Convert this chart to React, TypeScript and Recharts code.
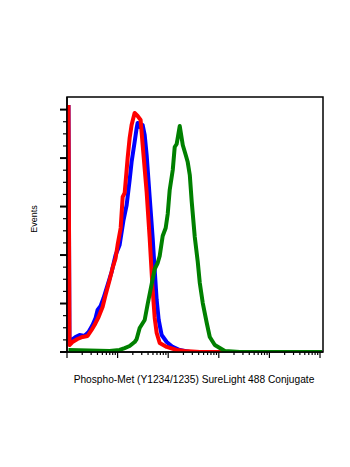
import { LineChart, Line, XAxis, YAxis, ReferenceArea } from "recharts"

// fluorescence intensity (log axis) and event counts
const blueX = [1.07, 1.12, 1.23, 1.47, 1.77, 2.22, 2.67, 3.2, 3.67, 4.02, 4.61, 5.28, 6.34, 7.61, 9.13, 10.96, 13.1, 15.1, 17.3, 18.9, 21.7, 23.8, 24.9, 27.3, 31.3, 34.3, 37.5, 43.0, 49.3, 54.1, 59.2, 64.9, 74.3, 93.4, 123, 169, 267, 110000]
const blueY = [254.7, 8.3, 12.4, 15.5, 17.5, 16.5, 20.6, 27.8, 35.1, 43.3, 47.4, 55.7, 69.1, 82.5, 100.0, 110.4, 136.1, 151.6, 177.4, 196.0, 216.6, 231.0, 236.2, 232.1, 234.1, 223.8, 203.2, 159.9, 117.6, 84.5, 53.6, 33.0, 17.5, 10.3, 5.2, 2.1, 0, 0]

const redX = [1.07, 1.12, 1.28, 1.61, 2.03, 2.55, 3.06, 3.5, 4.21, 5.05, 5.78, 6.95, 7.96, 9.13, 10.0, 11.5, 12.6, 13.8, 15.8, 17.3, 18.9, 21.7, 24.9, 28.5, 31.3, 37.5, 43.0, 49.3, 54.1, 59.2, 67.9, 93.4, 147, 212, 421, 110000]
const redY = [254.7, 7.2, 10.3, 13.4, 15.5, 16.5, 22.7, 27.8, 36.1, 46.4, 58.8, 74.3, 86.6, 96.9, 110.4, 127.9, 159.9, 164.0, 200.1, 220.7, 234.1, 246.5, 243.4, 239.3, 213.5, 165.0, 117.6, 63.9, 35.1, 19.6, 9.3, 5.2, 2.1, 1.0, 0, 0]

const greenX = [1.07, 6.95, 10.96, 13.8, 17.3, 21.7, 23.8, 27.3, 34.3, 39.3, 47.1, 54.1, 61.9, 67.9, 77.8, 89.2, 97.8, 107, 123, 134.5, 147, 169, 194, 222, 243, 267, 292, 335, 384, 421, 482, 578, 663, 833, 1047, 1315, 2606, 110000]
const greenY = [2.1, 1.0, 2.1, 4.1, 6.2, 10.3, 13.4, 24.8, 33.0, 49.5, 70.1, 85.6, 91.8, 99.0, 119.6, 127.9, 142.3, 167.1, 187.7, 211.4, 214.5, 233.1, 213.5, 203.2, 195.9, 182.6, 154.7, 118.6, 92.8, 71.2, 50.5, 29.9, 15.5, 7.2, 4.1, 1.0, 0, 0]

const xMax = 114600
const yMax = 263

const decades = [1, 10, 100, 1000, 10000, 100000]
const xTicks = decades.flatMap((d) => [1, 2, 3, 4, 5, 6, 7, 8, 9].map((m) => m * d)).filter((v) => v <= xMax)
const yTicks = Array.from({ length: 21 }, (_, i) => i * 12.5)

const toPoints = (xs: number[], ys: number[]) => xs.map((x, i) => ({ x, y: ys[i] }))

const blueData = toPoints(blueX, blueY)
const redData = toPoints(redX, redY)
const greenData = toPoints(greenX, greenY)

const XTick = (props: any) => {
  const { x, y, payload } = props
  const lg = Math.log10(payload.value)
  const major = Math.abs(lg - Math.round(lg)) < 1e-6
  return (
    <g>
      <line x1={x} x2={x} y1={y} y2={y + (major ? 6 : 3)} stroke="#000" strokeWidth={1.2} />
    </g>
  )
}

const YTick = (props: any) => {
  const { x, y, payload } = props
  const major = payload.value % 50 === 0
  return (
    <g>
      <line x1={x - (major ? 7 : 4)} x2={x} y1={y} y2={y} stroke="#000" strokeWidth={major ? 2 : 1.2} />
    </g>
  )
}

export default function App() {
  return (
    <div style={{ position: "absolute", left: 0, top: 0, background: "#fff" }}>
      <LineChart width={350} height={467} margin={{ top: 97, right: 27, bottom: 105, left: 57 }}>
        <XAxis
          dataKey="x"
          type="number"
          scale="log"
          domain={[1, xMax]}
          ticks={xTicks}
          interval={0}
          height={10}
          tickSize={0}
          tickMargin={0}
          tick={XTick}
          tickLine={false}
          axisLine={{ stroke: "#000", strokeWidth: 1.5 }}
          allowDataOverflow
        />
        <YAxis
          type="number"
          domain={[0, yMax]}
          ticks={yTicks}
          interval={0}
          width={10}
          tickSize={0}
          tickMargin={0}
          tick={YTick}
          tickLine={false}
          axisLine={{ stroke: "#000", strokeWidth: 1.5 }}
          allowDataOverflow
        />
        <ReferenceArea x1={1} x2={xMax} y1={0} y2={yMax} fill="none" stroke="#000" strokeWidth={1.5} />
        <Line data={blueData} dataKey="y" stroke="#0000ff" strokeWidth={4} dot={false} isAnimationActive={false} strokeLinejoin="round" />
        <Line data={redData} dataKey="y" stroke="#ff0000" strokeWidth={4} dot={false} isAnimationActive={false} strokeLinejoin="round" />
        <Line data={greenData} dataKey="y" stroke="#008000" strokeWidth={4} dot={false} isAnimationActive={false} strokeLinejoin="round" />
        <text x={35} y={219} transform="rotate(-90 35 219)" textAnchor="middle" dominantBaseline="middle" fontFamily="Liberation Sans, Arial, sans-serif" fontSize={9} fill="#000">
          Events
        </text>
        <text x={194} y={380} textAnchor="middle" dominantBaseline="middle" fontFamily="Liberation Sans, Arial, sans-serif" fontSize={10.2} fill="#000">
          Phospho-Met (Y1234/1235) SureLight 488 Conjugate
        </text>
      </LineChart>
    </div>
  )
}
